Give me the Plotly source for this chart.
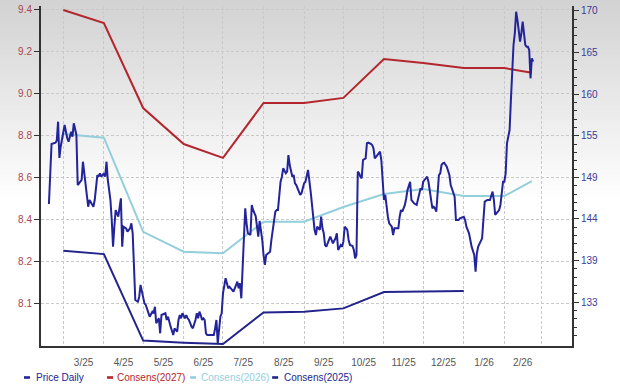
import plotly.graph_objects as go
import pandas as pd

# ---------------- data ----------------
price_dates = [
"2025-02-18","2025-02-20","2025-02-23","2025-02-24","2025-02-25","2025-02-26","2025-02-27","2025-02-28",
"2025-03-01","2025-03-02","2025-03-04","2025-03-05","2025-03-06","2025-03-07","2025-03-08","2025-03-09",
"2025-03-11","2025-03-12","2025-03-13","2025-03-15","2025-03-16","2025-03-18","2025-03-19","2025-03-20",
"2025-03-21","2025-03-23","2025-03-24","2025-03-25","2025-03-27","2025-03-28","2025-03-29","2025-03-30",
"2025-04-01","2025-04-02","2025-04-03","2025-04-04","2025-04-06","2025-04-07","2025-04-08","2025-04-09",
"2025-04-10","2025-04-12","2025-04-13","2025-04-14","2025-04-15","2025-04-16","2025-04-18","2025-04-19",
"2025-04-21","2025-04-22","2025-04-23","2025-04-24","2025-04-25","2025-04-27","2025-04-28","2025-04-29",
"2025-05-01","2025-05-02","2025-05-03","2025-05-05","2025-05-06","2025-05-08","2025-05-09","2025-05-10",
"2025-05-11","2025-05-13","2025-05-14","2025-05-15","2025-05-18","2025-05-19","2025-05-20","2025-05-22",
"2025-05-23","2025-05-24","2025-05-25","2025-05-27","2025-05-28","2025-05-29","2025-05-30","2025-05-31",
"2025-06-02","2025-06-03","2025-06-04","2025-06-05","2025-06-07","2025-06-08","2025-06-10","2025-06-11",
"2025-06-12","2025-06-13","2025-06-14","2025-06-15","2025-06-16","2025-06-17","2025-06-18","2025-06-19",
"2025-06-21","2025-06-23","2025-06-24","2025-06-25","2025-06-26","2025-06-27","2025-06-28","2025-06-29",
"2025-06-30","2025-07-01","2025-07-03","2025-07-04","2025-07-05","2025-07-06","2025-07-08","2025-07-09",
"2025-07-10","2025-07-12","2025-07-13","2025-07-14","2025-07-15","2025-07-17","2025-07-18","2025-07-19",
"2025-07-20","2025-07-22","2025-07-23","2025-07-24","2025-07-26","2025-07-27","2025-07-28","2025-07-29",
"2025-07-31","2025-08-01","2025-08-02","2025-08-03","2025-08-05","2025-08-06","2025-08-07","2025-08-09",
"2025-08-10","2025-08-11","2025-08-12","2025-08-14","2025-08-15","2025-08-16","2025-08-18","2025-08-19",
"2025-08-20","2025-08-21","2025-08-23","2025-08-24","2025-08-25","2025-08-26","2025-08-28","2025-08-29",
"2025-08-30","2025-09-01","2025-09-02","2025-09-03","2025-09-04","2025-09-06","2025-09-07","2025-09-08",
"2025-09-09","2025-09-10","2025-09-11","2025-09-13","2025-09-14","2025-09-15","2025-09-16","2025-09-17",
"2025-09-18","2025-09-20","2025-09-21","2025-09-22","2025-09-23","2025-09-25","2025-09-26","2025-09-27",
"2025-09-29","2025-09-30","2025-10-01","2025-10-02","2025-10-04","2025-10-05","2025-10-06","2025-10-08",
"2025-10-09","2025-10-10","2025-10-11","2025-10-12","2025-10-13","2025-10-14","2025-10-15","2025-10-16",
"2025-10-18","2025-10-19","2025-10-20","2025-10-22","2025-10-23","2025-10-24","2025-10-25","2025-10-27",
"2025-10-28","2025-10-29","2025-10-30","2025-11-01","2025-11-02","2025-11-03","2025-11-04","2025-11-05",
"2025-11-07","2025-11-08","2025-11-09","2025-11-10","2025-11-12","2025-11-13","2025-11-14","2025-11-15",
"2025-11-17","2025-11-18","2025-11-19","2025-11-21","2025-11-22","2025-11-23","2025-11-24","2025-11-26",
"2025-11-27","2025-11-29","2025-11-30","2025-12-01","2025-12-03","2025-12-04","2025-12-05","2025-12-06",
"2025-12-08","2025-12-09","2025-12-10","2025-12-11","2025-12-13","2025-12-14","2025-12-15","2025-12-16",
"2025-12-17","2025-12-19","2025-12-20","2025-12-21","2025-12-22","2025-12-24","2025-12-25","2025-12-26",
"2025-12-28","2025-12-29","2025-12-31","2026-01-01","2026-01-02","2026-01-03","2026-01-05","2026-01-06",
"2026-01-07","2026-01-09","2026-01-10","2026-01-11","2026-01-12","2026-01-15","2026-01-16","2026-01-17",
"2026-01-19","2026-01-20","2026-01-21","2026-01-23","2026-01-24","2026-01-25","2026-01-26","2026-01-28",
"2026-01-29","2026-01-30","2026-01-31","2026-02-01","2026-02-02","2026-02-03","2026-02-04","2026-02-05",
"2026-02-06","2026-02-07","2026-02-08","2026-02-09","2026-02-10","2026-02-11","2026-02-12","2026-02-13",
"2026-02-14","2026-02-15","2026-02-16","2026-02-17","2026-02-18","2026-02-19","2026-02-20","2026-02-21",
"2026-02-22","2026-02-23",
]
price_values = [
145.47,153.09,153.25,153.51,155.92,151.31,152.74,153.81,
154.45,155.50,153.81,153.38,154.01,154.65,154.01,155.71,
154.23,147.88,148.10,148.52,150.84,147.67,146.83,145.13,
145.98,145.35,145.13,145.98,149.15,148.94,149.37,148.94,
149.37,148.94,150.84,148.52,145.98,143.44,140.06,142.59,
144.71,143.86,145.13,146.20,140.06,142.59,142.39,141.96,
142.39,143.03,141.76,137.10,133.29,133.08,133.71,135.20,
133.71,132.87,132.66,131.81,131.18,131.81,131.61,132.44,
130.34,130.97,129.07,131.39,131.61,130.76,131.18,129.91,
129.27,128.85,129.70,129.27,130.76,131.39,130.97,131.61,
130.97,131.39,130.97,130.76,129.91,129.70,130.76,131.61,
130.97,131.81,131.39,130.76,130.97,130.76,129.07,128.85,
128.85,128.85,128.85,129.70,130.76,127.80,129.91,131.18,
131.61,134.14,136.05,135.41,134.78,134.98,134.56,134.35,
134.78,135.62,134.78,135.41,133.51,140.06,144.93,143.06,
141.76,141.54,145.35,144.71,143.95,142.59,141.33,143.32,
140.91,139.00,137.74,139.00,139.22,139.42,140.91,143.44,
144.50,144.71,144.71,148.30,148.94,150.00,149.37,149.57,
151.69,150.42,148.94,149.15,148.10,147.88,146.83,146.62,
146.83,148.10,148.30,148.94,149.79,147.04,145.13,143.44,
142.18,141.54,142.59,142.18,143.86,142.39,141.76,140.27,
140.06,140.91,141.33,140.91,140.49,141.12,141.76,139.64,
140.27,140.06,140.69,142.59,142.18,140.91,140.27,140.15,
139.64,138.59,139.00,149.57,149.37,148.94,148.74,151.06,
151.27,153.18,153.25,153.09,152.96,152.54,151.27,151.69,
151.91,152.11,151.06,145.98,146.62,144.93,143.86,143.03,
142.59,141.54,142.39,142.39,142.39,143.86,144.71,144.50,
145.35,146.20,147.25,148.30,145.98,145.77,145.56,145.35,
146.20,147.47,147.25,148.30,148.74,148.94,148.30,147.04,
144.93,145.13,144.93,144.50,149.15,149.37,150.42,150.64,
150.71,150.21,149.79,149.15,147.88,147.04,146.40,143.44,
143.44,143.66,143.86,143.86,143.44,142.59,141.76,140.91,
140.06,139.00,136.88,139.22,140.06,141.12,143.44,145.77,
145.98,145.98,145.98,147.04,145.98,144.08,144.29,144.71,
145.35,146.83,148.30,148.30,149.37,153.18,154.01,154.86,
158.67,162.90,165.65,167.13,169.87,168.82,167.55,166.07,
167.13,168.60,167.13,165.65,165.43,165.43,165.01,161.42,
163.96,163.53,
]

cons_dates = ["2025-03-01","2025-04-01","2025-05-01","2025-06-01","2025-07-01","2025-08-01",
              "2025-09-01","2025-10-01","2025-11-01","2025-12-01","2026-01-01","2026-02-01","2026-02-22"]
cons2027 = [9.397, 9.335, 8.931, 8.760, 8.694, 8.955, 8.955, 8.979, 9.164, 9.145, 9.121, 9.121, 9.099]
cons2026 = [8.808, 8.790, 8.343, 8.248, 8.241, 8.391, 8.391, 8.461, 8.522, 8.546, 8.513, 8.513, 8.584]
cons2025_dates = cons_dates[:11]
cons2025 = [8.253, 8.237, 7.826, 7.816, 7.810, 7.960, 7.963, 7.979, 8.057, 8.059, 8.062]

month_labels = ["3/25","4/25","5/25","6/25","7/25","8/25","9/25","10/25","11/25","12/25","1/26","2/26"]
left_tick_vals = [9.4, 9.2, 9.0, 8.8, 8.6, 8.4, 8.2, 8.0]
left_tick_labels = ["9.4","9.2","9.0","8.8","8.6","8.4","8.2","8.1"]
right_tick_labels = ["170","165","160","155","149","144","139","133"]

series_names = ["Price Daily", "Consens(2027)", "Consens(2026)", "Consens(2025)"]
series_colors = ["#23239a", "#b3262e", "#93cfdb", "#22248c"]

# ---------------- layout geometry ----------------
W, H = 620, 391
PL, PR, PT, PB = 41, 571.7, 6, 346
FONT = "Liberation Sans, Arial, sans-serif"

def pxx(px):
    return (px - PL) / (PR - PL)

def pxy(py):
    return (PB - py) / (PB - PT)

# x axis: month-start gridlines, mid-month labels
month_starts = pd.date_range("2025-03-01", "2026-03-01", freq="MS")
mid_months = [month_starts[i] + (month_starts[i + 1] - month_starts[i]) / 2 for i in range(len(month_labels))]

right_step = (170 - 133) / 7.0
right_tick_vals = [170 - k * right_step for k in range(len(right_tick_labels))]
right_range = [127.457, 170.596]
right_minor = []
k = 0
while True:
    v = 170 - k * right_step / 5.0
    if v < right_range[0]:
        break
    if k % 5 != 0:
        right_minor.append(v)
    k += 1

fig = go.Figure()

fig.add_trace(go.Scatter(x=cons_dates, y=cons2027, mode="lines", name=series_names[1],
                         line=dict(color=series_colors[1], width=2), yaxis="y"))
fig.add_trace(go.Scatter(x=cons_dates, y=cons2026, mode="lines", name=series_names[2],
                         line=dict(color=series_colors[2], width=2), yaxis="y"))
fig.add_trace(go.Scatter(x=cons2025_dates, y=cons2025, mode="lines", name=series_names[3],
                         line=dict(color=series_colors[3], width=2), yaxis="y"))
fig.add_trace(go.Scatter(x=price_dates, y=price_values, mode="lines", name=series_names[0],
                         line=dict(color=series_colors[0], width=2), yaxis="y2"))

# background gradient (grey at top fading to white)
shapes = []
steps = 40
top_g, fade_px = 210, 200.0
for i in range(steps):
    y0 = i * fade_px / steps
    y1 = (i + 1) * fade_px / steps
    g = int(round(top_g + (255 - top_g) * (i + 0.5) / steps))
    shapes.append(dict(type="rect", xref="paper", yref="paper", x0=pxx(0), x1=pxx(W),
                       y0=pxy(y1), y1=pxy(y0) if i > 0 else pxy(-2),
                       fillcolor=f"rgb({g},{g},{g})", line=dict(width=0), layer="below"))

# legend (custom)
leg_dash_x = [24, 107, 190, 272]
leg_text_x = [34, 115, 199, 282]
leg_y = 377.5
order = [0, 1, 2, 3]
annotations = []
for j, si in enumerate(order):
    shapes.append(dict(type="rect", xref="paper", yref="paper",
                       x0=pxx(leg_dash_x[j]), x1=pxx(leg_dash_x[j] + 6),
                       y0=pxy(leg_y + 1.3), y1=pxy(leg_y - 1.3),
                       fillcolor=series_colors[si], line=dict(width=0), layer="above"))
    annotations.append(dict(xref="paper", yref="paper", x=pxx(leg_text_x[j]), y=pxy(leg_y),
                            xanchor="left", yanchor="middle", showarrow=False,
                            text=series_names[si],
                            font=dict(family=FONT, size=10, color=series_colors[si])))

grid_color = "#c9c9c9"
axis_color = "#333333"

fig.update_layout(
    width=W, height=H, autosize=False,
    margin=dict(l=PL, r=W - PR, t=PT, b=H - PB, pad=0),
    paper_bgcolor="white", plot_bgcolor="rgba(0,0,0,0)",
    showlegend=False,
    shapes=shapes, annotations=annotations,
    font=dict(family=FONT, size=10),
    xaxis=dict(
        type="date",
        range=["2025-02-11 22:48", "2026-03-24 16:33"],
        tickmode="array", tickvals=mid_months, ticktext=month_labels,
        ticks="", showgrid=False, zeroline=False,
        showline=True, linecolor=axis_color, linewidth=2,
        tickfont=dict(family=FONT, size=10, color="#555555"),
        ticklabelstandoff=6,
        automargin=False,
        minor=dict(tickmode="array", tickvals=list(month_starts), showgrid=True,
                   gridcolor=grid_color, gridwidth=1, griddash="3px,2px", ticks=""),
    ),
    yaxis=dict(
        range=[7.8003, 9.4157],
        tickmode="array", tickvals=left_tick_vals, ticktext=left_tick_labels,
        ticks="outside", ticklen=5, tickwidth=1, tickcolor=axis_color,
        showgrid=True, gridcolor=grid_color, gridwidth=1, griddash="3px,2px",
        zeroline=False, showline=True, linecolor=axis_color, linewidth=2,
        tickfont=dict(family=FONT, size=10, color="#a8474f"),
        automargin=False,
    ),
    yaxis2=dict(
        overlaying="y", side="right", anchor="x",
        range=right_range,
        tickmode="array", tickvals=right_tick_vals, ticktext=right_tick_labels,
        ticks="outside", ticklen=5, tickwidth=1, tickcolor=axis_color,
        showgrid=False, zeroline=False, showline=True, linecolor=axis_color, linewidth=2,
        tickfont=dict(family=FONT, size=10, color="#3b3b98"),
        minor=dict(tickmode="array", tickvals=right_minor, ticks="outside", ticklen=3,
                   tickwidth=1, tickcolor=axis_color, showgrid=False),
        automargin=False,
    ),
)

fig.write_html("out.html",
               config={"displayModeBar": False, "staticPlot": True},
               post_script="document.body.style.margin='0';document.body.style.padding='0';document.body.style.overflow='hidden';")
